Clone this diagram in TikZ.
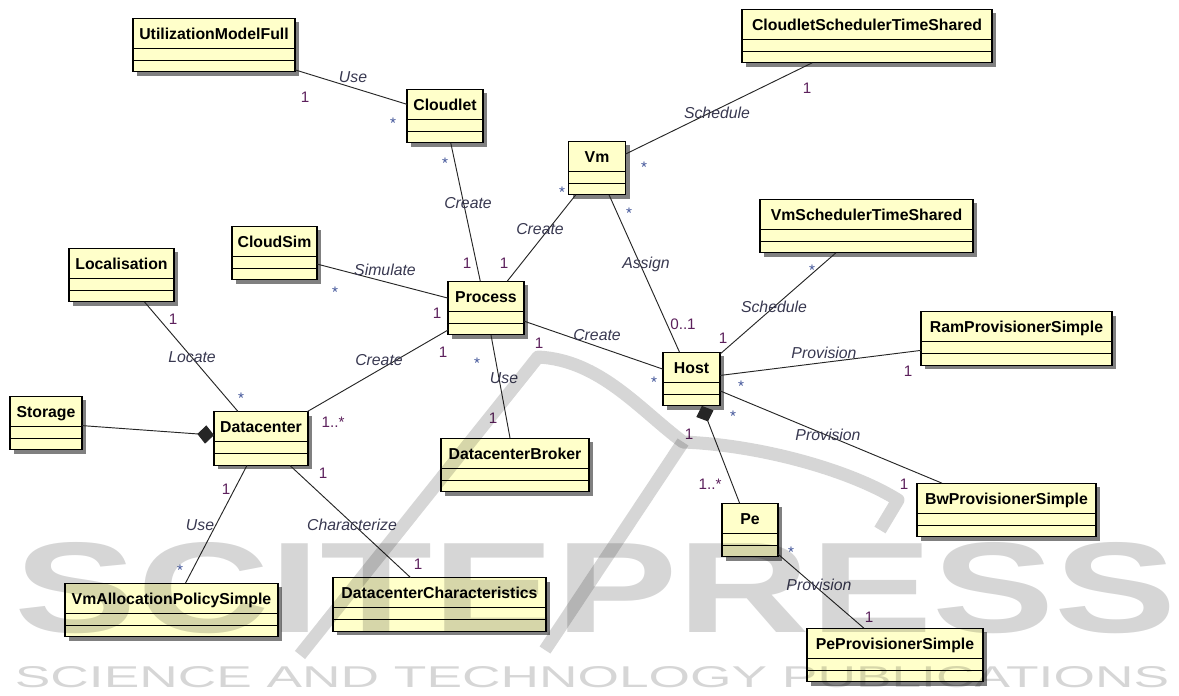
\documentclass[tikz,border=0pt]{standalone}
\usepackage{fontspec}
\setmainfont{Liberation Sans}
\usetikzlibrary{arrows.meta, shadows, positioning}
\definecolor{clsfill}{RGB}{255,255,202}
\definecolor{lblcol}{RGB}{56,56,80}
\definecolor{onecol}{RGB}{92,32,92}
\definecolor{manycol}{RGB}{60,80,150}

\begin{document}
\begin{tikzpicture}[% styles used in the class diagram
   x = 0.03cm, y = -0.03cm, % one unit = one pixel of the layout
cls/.style = {draw, line width=1pt, fill=clsfill,
              font=\fontsize{13.5}{16}\selectfont\bfseries,
              minimum width=#1*0.03cm, inner xsep=2pt, inner ysep=0pt,
              outer sep=0pt, text height=17.9pt, text depth=28pt,
              drop shadow={shadow xshift=0.12cm, shadow yshift=-0.12cm,
                           fill=black!50, opacity=1},
              path picture={% the two empty compartments
                \draw[line width=1pt]
                  ([yshift=-0.9cm]path picture bounding box.north west) --
                  ([yshift=-0.9cm]path picture bounding box.north east)
                  ([yshift=-1.26cm]path picture bounding box.north west) --
                  ([yshift=-1.26cm]path picture bounding box.north east);}},
assoc/.style = {draw, line width=0.8pt, black!85},
 comp/.style = {assoc, -{Diamond[length=0.5cm, width=0.55cm]}},
  lbl/.style = {font=\fontsize{13.5}{16}\selectfont\itshape, text=lblcol,
                inner sep=0pt, text height=9.7pt, text depth=0pt},
  one/.style = {font=\fontsize{13}{15}\selectfont, text=onecol,
                inner sep=0pt, text height=9.3pt, text depth=0pt},
 many/.style = {one, text=manycol, yshift=-2.7pt},
   wm/.style = {inner sep=0pt, text=black, text opacity=0.16},
wm line/.style = {line width=0.39cm, draw=black, draw opacity=0.16,
                  line join=round}
                        ]
	\useasboundingbox (0,0) rectangle (1179,695);

	% classes
	\node[cls=162] (util)     at (214,45)    {UtilizationModelFull};
	\node[cls=76]  (cloudlet) at (445,116)   {Cloudlet};
	\node[cls=57]  (vm)       at (597,168)   {Vm};
	\node[cls=250] (clsched)  at (867,36)    {CloudletSchedulerTimeShared};
	\node[cls=105] (loc)      at (121.5,275) {Localisation};
	\node[cls=85]  (cloudsim) at (274.5,253) {CloudSim};
	\node[cls=72]  (storage)  at (46,423)    {Storage};
	\node[cls=94]  (dc)       at (261,438.5) {Datacenter};
	\node[cls=76]  (proc)     at (486,308)   {Process};
	\node[cls=148] (broker)   at (515,465)   {DatacenterBroker};
	\node[cls=213] (vmalloc)  at (171.5,610) {VmAllocationPolicySimple};
	\node[cls=213] (dcchar)   at (439.5,604.5) {DatacenterCharacteristics};
	\node[cls=57]  (host)     at (691.5,379) {Host};
	\node[cls=213] (vmsched)  at (866.5,226) {VmSchedulerTimeShared};
	\node[cls=191] (ram)      at (1016.5,338.5) {RamProvisionerSimple};
	\node[cls=179] (bw)       at (1006.5,510) {BwProvisionerSimple};
	\node[cls=56]  (pe)       at (750,530)   {Pe};
	\node[cls=176] (peprov)   at (895,655)   {PeProvisionerSimple};

	% associations
	\foreach \a/\b in {util/cloudlet, cloudlet/proc, vm/proc, vm/clsched,
	                   vm/host, cloudsim/proc, dc/proc, proc/broker,
	                   proc/host, host/vmsched, host/ram, host/bw,
	                   pe/peprov, loc/dc, dc/vmalloc, dc/dcchar}
		\draw[assoc] (\a) -- (\b);
	% compositions
	\draw[comp] (storage) -- (dc);
	\draw[comp] (pe) -- (host);

	% association names
	\foreach \x/\y/\t [count=\i] in {353/77/Use, 468/203/Create,
	        540/229/Create, 717/113/Schedule, 646/263/Assign,
	        385/270/Simulate, 379/360/Create, 504/378/Use,
	        597/335/Create, 774/307/Schedule, 824/353/Provision,
	        828/435/Provision, 819/585/Provision, 192/357/Locate,
	        200/525/Use, 352/525/Characterize}
		\node[lbl] (n\i) at (\x,\y) {\t};

	% multiplicities
	\foreach \x/\y [count=\i] in {305/97, 467/263, 504/263, 807/88,
	        437/313, 443/352, 493/418, 539/343, 723/338, 908/371,
	        904/484, 689/434, 869/617, 173/319, 226/489, 323/473,
	        418/564}
		\node[one] (one\i) at (\x,\y) {1};
	\foreach \x/\y [count=\i] in {393/120, 445/160, 562/189, 644/164,
	        629/210, 335/289, 477/360, 654/379, 812/267, 741/383,
	        733/413, 791/549, 241/395, 180/567}
		\node[many] (many\i) at (\x,\y) {*};
	\node[one] (zeroone) at (683,324) {0..1};
	\node[one] (dcmany)  at (333,422) {1..*};
	\node[one] (pemany)  at (710,484) {1..*};

	% publisher watermark
	\draw[wm line] (300,655) -- (538,357)
	      .. controls (600,360) and (640,410) .. (683,442)
	      .. controls (760,445) and (850,470) .. (898,500) -- (880,530);
	\draw[wm line] (683,442) -- (545,650);
	\node[wm] (wmbig) at (596,588)
	      {\resizebox{34.86cm}{2.7cm}{\bfseries SCITEPRESS}};
	\node[wm] (wmsmall) at (592,677)
	      {\resizebox{34.62cm}{0.63cm}{SCIENCE AND TECHNOLOGY PUBLICATIONS}};
\end{tikzpicture}
\end{document}
